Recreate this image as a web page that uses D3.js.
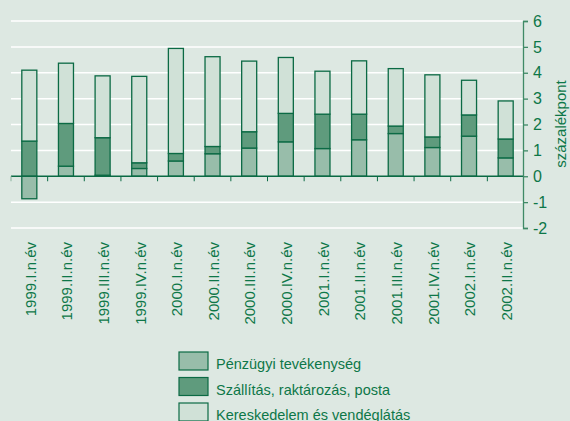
<!DOCTYPE html>
<html>
<head>
<meta charset="utf-8">
<script src="https://cdn.jsdelivr.net/npm/d3@7"></script>
<style>
  body { margin: 0; background: #dde8e2; }
  svg { display: block; font-family: "Liberation Sans", Arial, sans-serif; }
</style>
</head>
<body>
<svg id="chart" width="570" height="421"></svg>
<script>
// Data
const quarters = ["1999.I.n.év", "1999.II.n.év", "1999.III.n.év", "1999.IV.n.év",
  "2000.I.n.év", "2000.II.n.év", "2000.III.n.év", "2000.IV.n.év",
  "2001.I.n.év", "2001.II.n.év", "2001.III.n.év", "2001.IV.n.év",
  "2002.I.n.év", "2002.II.n.év"];
const penzugyi = [-0.87, 0.39, 0.04, 0.30, 0.59, 0.87, 1.09, 1.33, 1.07, 1.41, 1.65, 1.11, 1.55, 0.71];
const szallitas = [1.36, 1.65, 1.45, 0.22, 0.29, 0.28, 0.63, 1.10, 1.33, 0.99, 0.29, 0.41, 0.82, 0.73];
const kereskedelem = [2.74, 2.33, 2.39, 3.34, 4.06, 3.47, 2.73, 2.16, 1.66, 2.06, 2.22, 2.40, 1.34, 1.47];
const seriesNames = ["Pénzügyi tevékenység", "Szállítás, raktározás, posta", "Kereskedelem és vendéglátás"];
const yTicks = [-2, -1, 0, 1, 2, 3, 4, 5, 6];

const fills = ["#98bdaa", "#5f9b7d", "#d0e1d7"];
const stroke = "#0b6a44";
const textColor = "#0d7748";

const rows = quarters.map((q, i) => ({
  q: q, p: penzugyi[i], s: szallitas[i], k: kereskedelem[i]
}));
const stacked = d3.stack()
  .keys(["p", "s", "k"])
  .offset(d3.stackOffsetDiverging)(rows);

const svg = d3.select("#chart");

const x = d3.scaleBand().domain(quarters).range([11, 524]).paddingInner(0.59).paddingOuter(0.295);
const y = d3.scaleLinear().domain([-2, 6]).range([228, 21]);

// white gridlines
svg.append("g")
  .selectAll("line")
  .data(yTicks.filter(d => d !== 0))
  .enter()
  .append("line")
  .attr("x1", 11).attr("x2", 523)
  .attr("y1", d => y(d)).attr("y2", d => y(d))
  .attr("stroke", "#ffffff")
  .attr("stroke-width", 1.5);

// bars
svg.append("g")
  .selectAll("g")
  .data(stacked)
  .enter()
  .append("g")
  .attr("fill", (d, i) => fills[i])
  .selectAll("rect")
  .data(d => d)
  .enter()
  .append("rect")
  .attr("x", d => x(d.data.q))
  .attr("y", d => y(d[1]))
  .attr("width", x.bandwidth())
  .attr("height", d => y(d[0]) - y(d[1]))
  .attr("stroke", stroke)
  .attr("stroke-width", 1.3);

// zero line with ticks between bars
const step = x.step();
svg.append("line")
  .attr("x1", 11).attr("x2", 523)
  .attr("y1", y(0)).attr("y2", y(0))
  .attr("stroke", stroke).attr("stroke-width", 1.3);
svg.append("g")
  .selectAll("line")
  .data(d3.range(quarters.length))
  .enter()
  .append("line")
  .attr("x1", i => 11 + i * step).attr("x2", i => 11 + i * step)
  .attr("y1", y(0)).attr("y2", y(0) + 5)
  .attr("stroke", (d, i) => i === 0 ? "#8ab39e" : stroke)
  .attr("stroke-width", 1);

// x labels
svg.append("g")
  .selectAll("text")
  .data(quarters)
  .enter()
  .append("text")
  .attr("transform", d => `translate(${x(d) + x.bandwidth() / 2 + 1},242) rotate(-90)`)
  .attr("text-anchor", "end")
  .attr("dy", "0.35em")
  .attr("fill", textColor)
  .attr("font-size", 15)
  .text(d => d);

// right axis
const yAxis = svg.append("g")
  .attr("transform", "translate(523,0)")
  .call(d3.axisRight(y).tickValues(yTicks).tickSize(5).tickPadding(5).tickFormat(d3.format("d")));
yAxis.select(".domain").attr("stroke", "#3f8a66").attr("stroke-width", 1.3);
yAxis.selectAll(".tick line").attr("stroke", "#3f8a66").attr("stroke-width", 1.3);
yAxis.selectAll(".tick text")
  .attr("fill", textColor)
  .attr("font-size", 16)
  .attr("font-family", "'Liberation Sans', Arial, sans-serif")
  .text(d => d < 0 ? "-" + Math.abs(d) : d);

svg.append("text")
  .attr("transform", "translate(561,124) rotate(-90)")
  .attr("text-anchor", "middle")
  .attr("dy", "0.35em")
  .attr("fill", textColor)
  .attr("font-size", 15)
  .text("százalékpont");

// legend
const legend = svg.append("g")
  .selectAll("g")
  .data(seriesNames)
  .enter()
  .append("g")
  .attr("transform", (d, i) => `translate(179,${352 + i * 25.5})`);
legend.append("rect")
  .attr("width", 29).attr("height", 18)
  .attr("fill", (d, i) => fills[i])
  .attr("stroke", stroke).attr("stroke-width", 1.2);
legend.append("text")
  .attr("x", 37).attr("y", 17)
  .attr("fill", textColor)
  .attr("font-size", 14.5)
  .text(d => d);
</script>
</body>
</html>
